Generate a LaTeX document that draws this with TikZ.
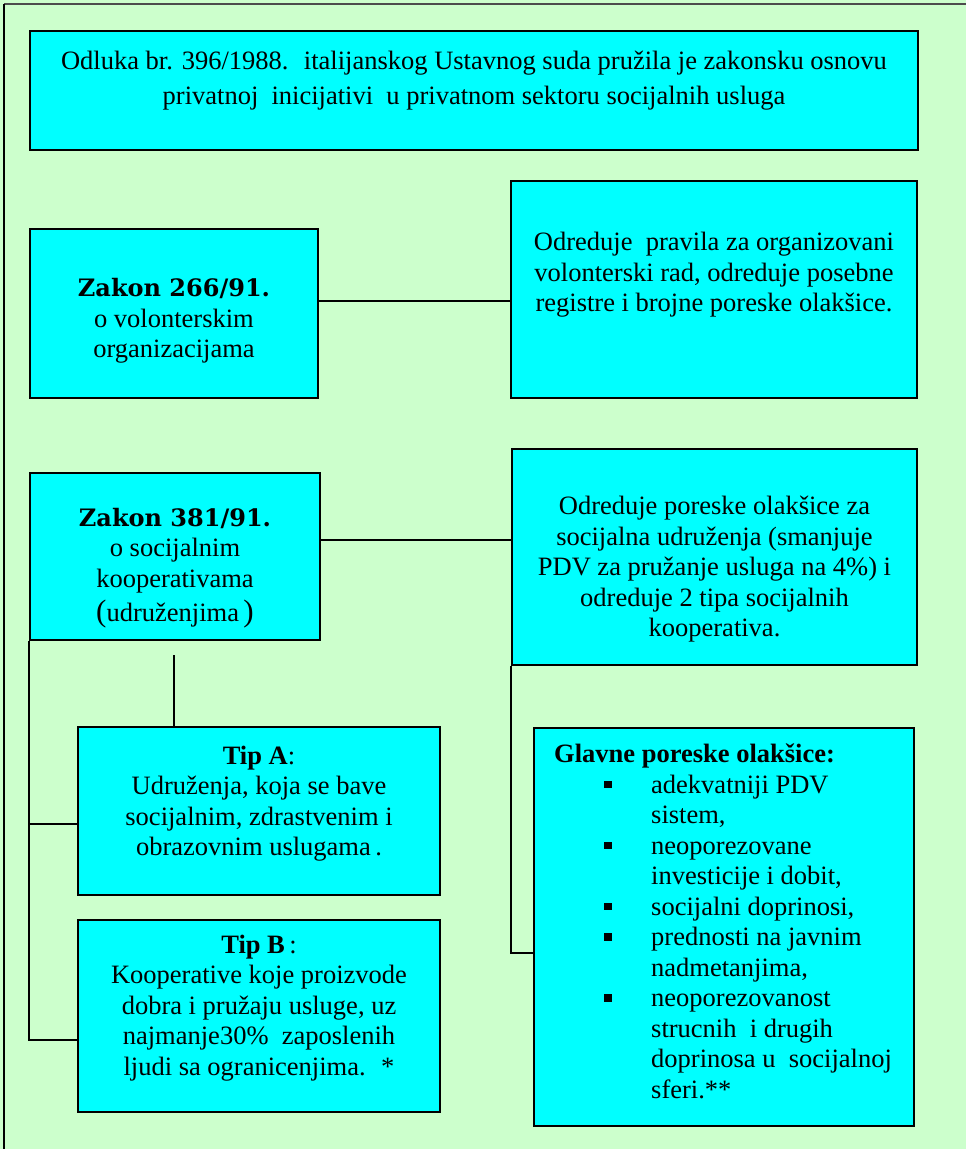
\documentclass[tikz,border=0pt]{standalone}
\usepackage{fontspec}
\setmainfont{Liberation Serif}
\newfontfamily\zfont{DejaVu Serif}
\definecolor{bggreen}{HTML}{CCFFCC}
\definecolor{boxcyan}{HTML}{00FFFF}
\newcommand{\gbul}{\hspace*{50pt}\makebox[47pt][l]{\raisebox{5pt}{\rule{7.5pt}{7.5pt}}}}
\newcommand{\gind}{\hspace*{97pt}}
\newcommand{\zk}[1]{{\zfont\bfseries\fontsize{24}{30.5}\selectfont #1}}
\tikzset{
  panel/.style={draw=black, fill=boxcyan, line width=1.7pt, inner sep=0pt},
  txt/.style={align=center, inner sep=0pt, font=\fontsize{26.5}{30.5}\selectfont},
  conn/.style={draw=black, line width=1.7pt},
}
\begin{document}
\begin{tikzpicture}[x=1pt, y=-1pt]
\path[use as bounding box, fill=bggreen] (0,0) rectangle (966,1149);
\draw[line width=1.6pt, black!70] (4,4) -- (966,4);
\draw[line width=2pt, black] (4,4) -- (4,1149);

% boxes
\node[panel, minimum width=888pt, minimum height=119pt] (top) at (474,90.5) {};
\node[panel, minimum width=288pt, minimum height=169pt] (z266) at (174,313.5) {};
\node[panel, minimum width=406pt, minimum height=217pt] (r1) at (714,289.5) {};
\node[panel, minimum width=290pt, minimum height=167pt] (z381) at (175,556.5) {};
\node[panel, minimum width=405pt, minimum height=216pt] (r2) at (714.5,557) {};
\node[panel, minimum width=362pt, minimum height=168pt] (tipa) at (259,811) {};
\node[panel, minimum width=362pt, minimum height=192pt] (tipb) at (259,1016) {};
\node[panel, minimum width=380pt, minimum height=398pt] (glavne) at (724,927) {};

% texts
\node[txt, font=\fontsize{26.5}{35}\selectfont] (toptext) at (474,80.5)
  {Odluka br. 396/1988.~ italijanskog Ustavnog suda pružila je zakonsku osnovu\\
   privatnoj~ inicijativi~ u privatnom sektoru socijalnih usluga};
\node[txt] (z266text) at (174,321)
  {\zk{Zakon 266/91.}\\ o volonterskim\\ organizacijama};
\node[txt] (r1text) at (714,275)
  {Odreduje~ pravila za organizovani\\ volonterski rad, odreduje posebne\\ registre i brojne poreske olakšice.};
\node[txt] (z381text) at (175,568)
  {\zk{Zakon 381/91.}\\ o socijalnim\\ kooperativama\\[4pt]
   {\fontsize{31}{30}\selectfont(}udruženjima\,{\fontsize{31}{30}\selectfont)}};
\node[txt] (r2text) at (714.5,569.5)
  {Odreduje poreske olakšice za\\ socijalna udruženja (smanjuje\\ PDV za pružanje usluga na 4\%) i\\
   odreduje 2 tipa socijalnih\\ kooperativa.};
\node[txt] (tipatext) at (259,803.5)
  {\textbf{Tip A}:\\ Udruženja, koja se bave\\ socijalnim, zdrastvenim i\\ obrazovnim uslugama\,.};
\node[txt] (tipbtext) at (259,1008)
  {\textbf{Tip B}\,:\\ Kooperative koje proizvode\\ dobra i pružaju usluge, uz\\
   najmanje30\%~ zaposlenih\\ ljudi sa ogranicenjima.~ *};
\node[inner sep=0pt, anchor=north west, align=left, font=\fontsize{26.5}{30.5}\selectfont] (glt) at (554,744)
  {\textbf{Glavne poreske olakšice:}\\
   \gbul adekvatniji PDV\\
   \gind sistem,\\
   \gbul neoporezovane\\
   \gind investicije i dobit,\\
   \gbul socijalni doprinosi,\\
   \gbul prednosti na javnim\\
   \gind nadmetanjima,\\
   \gbul neoporezovanost\\
   \gind strucnih~ i drugih\\
   \gind doprinosa u~ socijalnoj\\
   \gind sferi.**};

% connectors
\draw[conn] (z266.east |- 0,301) -- (r1.west |- 0,301);
\draw[conn] (z381.east |- 0,540) -- (r2.west |- 0,540);
\coordinate (c1) at (174,655);
\draw[conn] (c1) -- (tipa.north -| c1);
\draw[conn] (z381.south west) -- (z381.south west |- 0,1040) -- (tipb.west |- 0,1040);
\draw[conn] (z381.south west |- 0,824) -- (tipa.west |- 0,824);
\draw[conn] (r2.south west) -- (r2.south west |- 0,953) -- (glavne.west |- 0,953);
\end{tikzpicture}
\end{document}
